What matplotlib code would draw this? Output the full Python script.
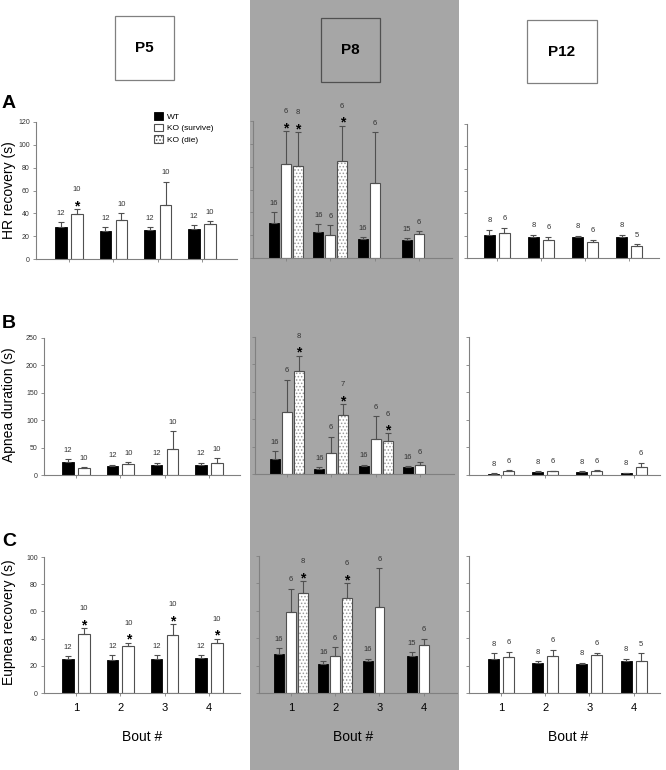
import numpy as np
import matplotlib.pyplot as plt
from matplotlib.patches import Rectangle, Patch

plt.rcParams['font.family'] = ['Liberation Sans', 'DejaVu Sans']
plt.rcParams['hatch.linewidth'] = 0.7

bouts = np.array([1, 2, 3, 4])
ages = ['P5', 'P8', 'P12']

# A: HR recovery (s)
a_p5_wt = [28, 24.6, 25.2, 26]
a_p5_wt_err = [4, 3.2, 2.6, 3.6]
a_p5_ko = [39.4, 34.5, 47.5, 30.7]
a_p5_ko_err = [4.6, 5.5, 20, 2.3]
a_p5_n = [[12, 12, 12, 12], [10, 10, 10, 10]]
a_p5_star = [[0, 0, 0, 0], [1, 0, 0, 0]]

a_p8_wt = [30.5, 22.7, 16.9, 16]
a_p8_wt_err = [9.5, 7, 1.4, 1.2]
a_p8_ko = [82.5, 20.3, 66, 21]
a_p8_ko_err = [28.5, 8.5, 44, 2.5]
a_p8_die = [81, 85, np.nan, np.nan]
a_p8_die_err = [29, 31, np.nan, np.nan]
a_p8_n = [[16, 16, 16, 15], [6, 6, 6, 6], [8, 6, 0, 0]]
a_p8_star = [[0, 0, 0, 0], [1, 0, 0, 0], [1, 1, 0, 0]]

a_p12_wt = [20.6, 18.5, 18.5, 18.5]
a_p12_wt_err = [4.8, 2.1, 1.5, 2.1]
a_p12_ko = [22.7, 16, 14.3, 11]
a_p12_ko_err = [4.3, 3, 2.1, 1.5]
a_p12_n = [[8, 8, 8, 8], [6, 6, 6, 5]]

# B: Apnea duration (s)
b_p5_wt = [23, 17, 18.8, 18.8]
b_p5_wt_err = [6, 2, 3.6, 3.6]
b_p5_ko = [12.7, 19.4, 47.6, 22.4]
b_p5_ko_err = [1.8, 4.2, 32, 8]
b_p5_n = [[12, 12, 12, 12], [10, 10, 10, 10]]

b_p8_wt = [28, 10, 14, 12.5]
b_p8_wt_err = [13.5, 2.5, 3, 2]
b_p8_ko = [114, 38, 63, 16]
b_p8_ko_err = [58, 30, 42, 6]
b_p8_die = [187.6, 107, 61, np.nan]
b_p8_die_err = [28.4, 21, 13, np.nan]
b_p8_n = [[16, 16, 16, 16], [6, 6, 6, 6], [8, 7, 6, 0]]
b_p8_star = [[0, 0, 0, 0], [0, 0, 0, 0], [1, 1, 1, 0]]

b_p12_wt = [2.4, 5.5, 5.5, 3.6]
b_p12_wt_err = [1, 1, 1.2, 0.6]
b_p12_ko = [7.3, 6.7, 6.7, 14.5]
b_p12_ko_err = [1.7, 0.6, 1.8, 7.5]
b_p12_n = [[8, 8, 8, 8], [6, 6, 6, 6]]

# C: Eupnea recovery (s)
c_p5_wt = [24.9, 24.5, 25, 25.5]
c_p5_wt_err = [2.2, 3.2, 2.7, 2.3]
c_p5_ko = [43.7, 34.4, 42.4, 36.6]
c_p5_ko_err = [3.9, 2.6, 8.1, 3.4]
c_p5_n = [[12, 12, 12, 12], [10, 10, 10, 10]]
c_p5_star = [[0, 0, 0, 0], [1, 1, 1, 1]]

c_p8_wt = [28.3, 21.5, 23.5, 26.8]
c_p8_wt_err = [4.4, 1.5, 1.5, 3]
c_p8_ko = [59, 27.3, 62.7, 35]
c_p8_ko_err = [17, 6, 28.3, 4.5]
c_p8_die = [73, 69.5, np.nan, np.nan]
c_p8_die_err = [8.7, 10.7, np.nan, np.nan]
c_p8_n = [[16, 16, 16, 15], [6, 6, 6, 6], [8, 6, 0, 0]]
c_p8_star = [[0, 0, 0, 0], [0, 0, 0, 0], [1, 1, 0, 0]]

c_p12_wt = [25, 22, 21, 23]
c_p12_wt_err = [4, 1, 1, 2]
c_p12_ko = [26, 27, 28, 23]
c_p12_ko_err = [4, 4.5, 1.5, 6]
c_p12_n = [[8, 8, 8, 8], [6, 6, 6, 5]]

W, H = 666, 770
fig = plt.figure(figsize=(W / 100, H / 100), dpi=100)
EDGE = '#505050'
AXC = '#808080'
GRAY = '#a6a6a6'

# grey band behind P8 column
fig.patches.append(Rectangle((250 / W, 0), 209 / W, 1, transform=fig.transFigure,
                             facecolor=GRAY, edgecolor='none', zorder=-5))


def px_axes(l, r, t, b):
    ax = fig.add_axes([l / W, 1 - b / H, (r - l) / W, (b - t) / H])
    ax.set_facecolor('none')
    for s in ['top', 'right']:
        ax.spines[s].set_visible(False)
    for s in ['left', 'bottom']:
        ax.spines[s].set_color(AXC)
        ax.spines[s].set_linewidth(0.8)
    return ax


def draw(ax, x, vals, errs, ns, stars, width, kind):
    vals = np.array(vals, float)
    errs = np.array(errs, float)
    ok = ~np.isnan(vals)
    x, vals, errs = x[ok], vals[ok], errs[ok]
    ns = np.array(ns)[ok]
    stars = np.array(stars)[ok]
    if kind == 'wt':
        ax.bar(x, vals, width, color='black', edgecolor='black', linewidth=0.6, zorder=2)
    elif kind == 'ko':
        ax.bar(x, vals, width, color='white', edgecolor=EDGE, linewidth=0.8, zorder=2)
    else:
        ax.bar(x, vals, width, color='white', edgecolor='#9a9a9a', hatch='.....',
               linewidth=0, zorder=2)
        ax.bar(x, vals, width, fill=False, edgecolor=EDGE, linewidth=0.8, zorder=3)
    ax.errorbar(x, vals, yerr=[np.zeros_like(errs), errs], fmt='none', ecolor=EDGE,
                elinewidth=0.8, capsize=2.5, capthick=0.8, zorder=4)
    for xi, top, n, s in zip(x, vals + errs, ns, stars):
        if s:
            ax.annotate('*', (xi, top), xytext=(0, 2), textcoords='offset points',
                        ha='center', va='center', fontsize=10, fontweight='bold',
                        annotation_clip=False)
            ax.annotate(str(n), (xi, top), xytext=(0, 14), textcoords='offset points',
                        ha='center', va='center', fontsize=5.5, color='#333333',
                        annotation_clip=False)
        else:
            ax.annotate(str(n), (xi, top), xytext=(0, 6.5), textcoords='offset points',
                        ha='center', va='center', fontsize=5.5, color='#333333',
                        annotation_clip=False)


def setup(ax, xlim, ylim, yticks, ylabels, xlabels):
    ax.set_xlim(*xlim)
    ax.set_ylim(*ylim)
    ax.set_xticks(bouts)
    ax.set_yticks(yticks)
    ax.tick_params(axis='x', length=2, width=0.6, color=AXC, labelsize=8, pad=5,
                   labelbottom=xlabels)
    ax.tick_params(axis='y', length=2.5, width=0.6, color=AXC, labelsize=5, pad=2,
                   labelleft=ylabels, labelcolor='#333333')


zeros = [0, 0, 0, 0]
two = (0.26, 0.18)
three = (0.225, 0.27)

rows = [
    dict(rects=[(36, 237, 122, 259), (253, 452, 121, 258), (467, 659, 124, 258)],
         xlims=[(0.255, 4.79), (0.255, 4.75), (0.32, 4.68)],
         ylim=(0, 120), yticks=np.arange(0, 121, 20),
         p5=(a_p5_wt, a_p5_wt_err, a_p5_ko, a_p5_ko_err, a_p5_n, a_p5_star),
         p8=(a_p8_wt, a_p8_wt_err, a_p8_ko, a_p8_ko_err, a_p8_die, a_p8_die_err, a_p8_n, a_p8_star),
         p12=(a_p12_wt, a_p12_wt_err, a_p12_ko, a_p12_ko_err, a_p12_n)),
    dict(rects=[(44, 240, 338, 475), (255, 454, 337, 474), (469, 660, 337, 475)],
         xlims=[(0.28, 4.70), (0.28, 4.77), (0.27, 4.6)],
         ylim=(0, 250), yticks=np.arange(0, 251, 50),
         p5=(b_p5_wt, b_p5_wt_err, b_p5_ko, b_p5_ko_err, b_p5_n, [zeros, zeros]),
         p8=(b_p8_wt, b_p8_wt_err, b_p8_ko, b_p8_ko_err, b_p8_die, b_p8_die_err, b_p8_n, b_p8_star),
         p12=(b_p12_wt, b_p12_wt_err, b_p12_ko, b_p12_ko_err, b_p12_n)),
    dict(rects=[(44, 240, 557, 693), (259, 457, 556, 693), (469, 660, 556, 693)],
         xlims=[(0.28, 4.70), (0.28, 4.75), (0.27, 4.6)],
         ylim=(0, 100), yticks=np.arange(0, 101, 20),
         p5=(c_p5_wt, c_p5_wt_err, c_p5_ko, c_p5_ko_err, c_p5_n, c_p5_star),
         p8=(c_p8_wt, c_p8_wt_err, c_p8_ko, c_p8_ko_err, c_p8_die, c_p8_die_err, c_p8_n, c_p8_star),
         p12=(c_p12_wt, c_p12_wt_err, c_p12_ko, c_p12_ko_err, c_p12_n)),
]

for i, row in enumerate(rows):
    bottom_row = i == 2
    # P5
    ax = px_axes(*row['rects'][0])
    wt, wte, ko, koe, n, st = row['p5']
    draw(ax, bouts - two[1], wt, wte, n[0], st[0], two[0], 'wt')
    draw(ax, bouts + two[1], ko, koe, n[1], st[1], two[0], 'ko')
    setup(ax, row['xlims'][0], row['ylim'], row['yticks'], True, bottom_row)
    # P8
    ax = px_axes(*row['rects'][1])
    wt, wte, ko, koe, die, diee, n, st = row['p8']
    draw(ax, bouts - three[1], wt, wte, n[0], st[0], three[0], 'wt')
    draw(ax, bouts.astype(float), ko, koe, n[1], st[1], three[0], 'ko')
    draw(ax, bouts + three[1], die, diee, n[2], st[2], three[0], 'die')
    setup(ax, row['xlims'][1], row['ylim'], row['yticks'], False, bottom_row)
    # P12
    ax = px_axes(*row['rects'][2])
    wt, wte, ko, koe, n = row['p12']
    draw(ax, bouts - 0.17, wt, wte, n[0], zeros, 0.25, 'wt')
    draw(ax, bouts + 0.17, ko, koe, n[1], zeros, 0.25, 'ko')
    setup(ax, row['xlims'][2], row['ylim'], row['yticks'], False, bottom_row)

# y labels and panel letters
for label, y in [('HR recovery (s)', 190), ('Apnea duration (s)', 405), ('Eupnea recovery (s)', 622)]:
    fig.text(9 / W, 1 - y / H, label, rotation=90, ha='center', va='center', fontsize=10)
for letter, y in [('A', 103), ('B', 324), ('C', 541)]:
    fig.text(2 / W, 1 - y / H, letter, ha='left', va='center', fontsize=14, fontweight='bold')

# age boxes
for (l, r, t, b), age, fc, ec in [((115, 174, 16, 80), 'P5', 'white', '#808080'),
                                  ((321, 380, 18, 82), 'P8', GRAY, '#505050'),
                                  ((527, 597, 20, 83), 'P12', 'white', '#808080')]:
    fig.patches.append(Rectangle((l / W, 1 - b / H), (r - l) / W, (b - t) / H,
                                 transform=fig.transFigure, facecolor=fc, edgecolor=ec,
                                 linewidth=0.9, zorder=1))
    fig.text((l + r) / 2 / W, 1 - (t + b) / 2 / H, age, ha='center', va='center',
             fontsize=11, fontweight='bold')

for x in [142, 353, 568]:
    fig.text(x / W, 1 - 737 / H, 'Bout #', ha='center', va='center', fontsize=10)

handles = [Patch(facecolor='black', edgecolor='black', linewidth=0.6),
           Patch(facecolor='white', edgecolor=EDGE, linewidth=0.8),
           Patch(facecolor='white', edgecolor=EDGE, linewidth=0.8, hatch='.....')]
fig.legend(handles, ['WT', 'KO (survive)', 'KO (die)'], loc='upper left',
           bbox_to_anchor=(150 / W, 1 - 108 / H), frameon=False, fontsize=6,
           handlelength=1.0, handleheight=1.0, handletextpad=0.5, labelspacing=0.35,
           borderpad=0)

fig.savefig('out.png', dpi=100)
